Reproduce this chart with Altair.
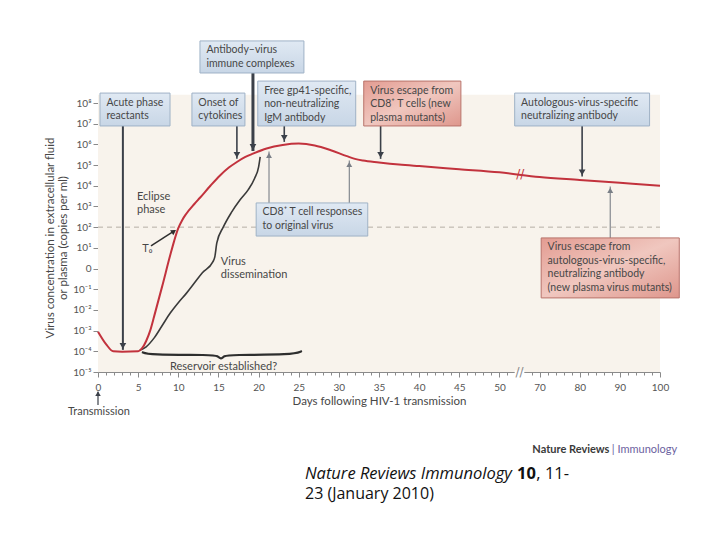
import altair as alt
import pandas as pd

FONT = "Lato"
TXT = "#474747"

# ---------------- data ----------------
# plasma virus (red) curve: days after transmission, log10 copies/ml
red_days = [0, 1, 1.9, 3, 5, 5.5, 6, 6.5, 7, 8, 9, 9.5, 10, 10.5, 11, 12, 12.7, 14, 15.2, 16.3,
            17.3, 18.3, 19.3, 21, 23, 25, 27, 29, 31, 32, 33, 35, 37.5, 40, 45, 50, 70, 80, 90, 100]
red_log = [-3.05, -3.65, -4.0, -4.02, -4.0, -3.85, -3.5, -3.0, -2.3, -0.85, 0.65, 1.35, 1.95,
           2.35, 2.65, 3.12, 3.42, 4.0, 4.5, 4.88, 5.15, 5.38, 5.55, 5.8, 5.97, 6.04, 5.95,
           5.72, 5.43, 5.3, 5.22, 5.13, 5.03, 4.95, 4.8, 4.65, 4.42, 4.28, 4.14, 4.0]

# virus dissemination (black) curve
blk_days = [5.2, 6, 7, 8, 9, 10, 11, 12, 13, 14.3, 14.55, 14.8, 15.6, 16.6, 17.7, 18.7, 19.5,
            20.0, 20.2]
blk_log = [-3.95, -3.78, -3.35, -2.75, -2.15, -1.65, -1.2, -0.7, -0.2, 0.32, 0.56, 1.24, 2.0,
           2.7, 3.32, 3.8, 4.35, 4.9, 5.4]

# reservoir brace (days)
brace_days = [5.48, 6.23, 14.3, 14.9, 15.3, 15.7, 16.4, 24.3, 25.4]
brace_log = [-4.03, -4.17, -4.17, -4.22, -4.4, -4.22, -4.17, -4.17, -3.99]

# axes
y_tick_vals = list(range(-5, 9))
y_tick_labels = ["10⁻⁵", "10⁻⁴", "10⁻³", "10⁻²", "10⁻¹", "0", "10¹", "10²", "10³", "10⁴",
                 "10⁵", "10⁶", "10⁷", "10⁸"]
x_tick_pos = [0, 5, 10, 15, 20, 25, 30, 35, 40, 45, 50, 55, 60, 65, 70]
x_tick_labels = ["0", "5", "10", "15", "20", "25", "30", "35", "40", "45", "50",
                 "70", "80", "90", "100"]
x_minor = [v for v in range(0, 71) if v not in (52, 53)]

# annotation boxes (axis units)
box_text = ["Acute phase\nreactants", "Onset of\ncytokines", "Antibody–virus\nimmune complexes",
            "Free gp41-specific,\nnon-neutralizing\nIgM antibody",
            "Virus escape from\nCD8⁺ T cells (new\nplasma mutants)",
            "Autologous-virus-specific\nneutralizing antibody",
            "CD8⁺ T cell responses\nto original virus",
            "Virus escape from\nautologous-virus-specific,\nneutralizing antibody\n(new plasma virus mutants)"]
box_u0 = [0.25, 11.7, 12.7, 19.9, 33.1, 51.9, 19.7, 55.2]
box_u1 = [8.97, 18.3, 25.65, 32.1, 45.2, 68.7, 33.6, 72.4]
box_top = [8.48, 8.48, 11.0, 9.06, 9.06, 8.48, 3.17, 1.48]
box_bot = [6.89, 6.89, 9.45, 6.89, 6.89, 6.89, 1.57, -1.42]
box_kind = ["blue", "blue", "blue", "blue", "red", "blue", "blue", "red"]

# arrows (axis units): x, from, to (tip)
arr_u = [3.1, 17.3, 19.3, 23.2, 35.2, 60.3, 21.3, 31.3, 63.8]
arr_from = [6.89, 6.89, 9.45, 6.89, 6.89, 6.89, 3.17, 3.17, 1.48]
arr_to = [-3.93, 5.3, 5.68, 6.12, 5.3, 4.45, 5.66, 5.22, 3.97]
arr_dir = ["down", "down", "down", "down", "down", "down", "up", "up", "up"]
arr_w = [2, 1.6, 3, 1.6, 1.6, 1.6, 1.1, 1.1, 1.1]

# free texts
misc_text = ["Eclipse\nphase", "T₀", "Virus\ndissemination", "Reservoir established?", "Transmission"]
misc_u = [4.86, 5.5, 15.3, 8.97, -3.74]
misc_y = [3.75, 1.24, 0.61, -4.46, -6.64]

# ---------------- helpers ----------------
U_EXPR = ("datum.d <= 50 ? datum.d : (datum.d >= 70 ? 55 + (datum.d - 70) / 2 "
          ": 50 + (datum.d - 50) / 4)")


def expr_from(vals, labels):
    e = "''"
    for v, l in zip(vals, labels):
        e = f"datum.value == {v} ? '{l}' : ({e})"
    return e


xs = alt.Scale(domain=[0, 70], nice=False, zero=False)
ys = alt.Scale(domain=[-5, 8], nice=False, zero=False)
xaxis = alt.Axis(values=x_minor, labelExpr=expr_from(x_tick_pos, x_tick_labels),
                 tickSize={"condition": {"test": "datum.value % 5 === 0", "value": 5}, "value": 3},
                 title="Days following HIV-1 transmission", titleFont=FONT, titleFontSize=11.5,
                 titleFontWeight="normal", titleColor=TXT, titlePadding=3,
                 labelFont=FONT, labelFontSize=10, labelColor="#555", labelPadding=5,
                 labelFlush=False, labelOverlap=False, domainColor="#8a8a8a",
                 tickColor="#8a8a8a", grid=False)
yaxis = alt.Axis(values=y_tick_vals, labelExpr=expr_from(y_tick_vals, y_tick_labels),
                 tickSize=5, title=["Virus concentration in extracellular fluid",
                                    "or plasma (copies per ml)"],
                 titleFont=FONT, titleFontSize=11.5, titleFontWeight="normal", titleColor=TXT,
                 titlePadding=4, labelFont=FONT, labelFontSize=10, labelColor="#555",
                 labelPadding=2, labelFlush=False, labelOverlap=False, domainColor="#8a8a8a",
                 tickColor="#8a8a8a", grid=False)


def X(f="u"):
    return alt.X(f"{f}:Q", scale=xs, axis=xaxis)


def Y(f="y"):
    return alt.Y(f"{f}:Q", scale=ys, axis=yaxis)


def txt(t, u, y, **kw):
    return alt.Chart(pd.DataFrame({"t": [t], "u": [u], "y": [y]})).mark_text(**kw).encode(
        x=X(), y=Y(), text="t:N")


# ---------------- layers ----------------
bg = alt.Chart(pd.DataFrame({"u": [0], "u2": [70], "y": [-5], "y2": [8.4]})).mark_rect(
    color="#f8f3ec").encode(x=X(), x2="u2:Q", y=Y(), y2="y2:Q")

dash = alt.Chart(pd.DataFrame({"u": [0], "u2": [70], "y": [2]})).mark_rule(
    color="#b5aea6", strokeDash=[5, 4], strokeWidth=1).encode(x=X(), x2="u2:Q", y=Y())

red = alt.Chart(pd.DataFrame({"d": red_days, "y": red_log})).transform_calculate(
    u=U_EXPR).mark_line(color="#c2323d", strokeWidth=2, interpolate="monotone").encode(
    x=X(), y=Y(), order="d:Q")

blk = alt.Chart(pd.DataFrame({"d": blk_days, "y": blk_log})).transform_calculate(
    u=U_EXPR).mark_line(color="#3a3a3a", strokeWidth=1.6, interpolate="monotone").encode(
    x=X(), y=Y(), order="d:Q")

brace = alt.Chart(pd.DataFrame({"d": brace_days, "y": brace_log})).transform_calculate(
    u=U_EXPR).mark_line(color="#2e2e2e", strokeWidth=2.2, interpolate="basis").encode(
    x=X(), y=Y(), order="d:Q")

boxes = pd.DataFrame({"t": box_text, "u": box_u0, "u2": box_u1, "y": box_top, "y2": box_bot,
                      "k": box_kind})
boxes["tu"] = boxes["u"] + 0.8
boxes["ty"] = boxes["y"] - 0.22

blue_fill = alt.Gradient(gradient="linear", x1=0, y1=0, x2=0, y2=1,
                         stops=[alt.GradientStop(color="#e0e9f3", offset=0),
                                alt.GradientStop(color="#c8d6e6", offset=1)])
red_fill = alt.Gradient(gradient="linear", x1=0, y1=0, x2=1, y2=1,
                        stops=[alt.GradientStop(color="#e39c92", offset=0),
                               alt.GradientStop(color="#f0c7bf", offset=0.5),
                               alt.GradientStop(color="#de968c", offset=1)])

box_blue = alt.Chart(boxes).transform_filter("datum.k == 'blue'").mark_rect(
    fill=blue_fill, stroke="#9fb2c6", strokeWidth=1).encode(x=X(), x2="u2:Q", y=Y(), y2="y2:Q")
box_red = alt.Chart(boxes).transform_filter("datum.k == 'red'").mark_rect(
    fill=red_fill, stroke="#b8736b", strokeWidth=1).encode(x=X(), x2="u2:Q", y=Y(), y2="y2:Q")
box_txt = alt.Chart(boxes).mark_text(align="left", baseline="top", lineBreak="\n",
                                     lineHeight=13.5, font=FONT, fontSize=10.5,
                                     color=TXT).encode(x=X("tu"), y=Y("ty"), text="t:N")

arrows = pd.DataFrame({"u": arr_u, "y": arr_from, "y2": arr_to, "dir": arr_dir, "w": arr_w})
DN, UP = "#3b4049", "#7a7f87"
arr_dn = alt.Chart(arrows).transform_filter("datum.dir == 'down'").mark_rule(color=DN).encode(
    x=X(), y=Y(), y2="y2:Q", strokeWidth=alt.StrokeWidth("w:Q", scale=None))
arr_up = alt.Chart(arrows).transform_filter("datum.dir == 'up'").mark_rule(color=UP).encode(
    x=X(), y=Y(), y2="y2:Q", strokeWidth=alt.StrokeWidth("w:Q", scale=None))
heads_dn = alt.Chart(arrows).transform_filter("datum.dir == 'down'").transform_calculate(
    ty="datum.y2").mark_point(shape="triangle-down", filled=True, size=45, opacity=1,
                               color=DN, yOffset=-4).encode(x=X(), y=Y("ty"))
heads_up = alt.Chart(arrows).transform_filter("datum.dir == 'up'").transform_calculate(
    ty="datum.y2").mark_point(shape="triangle-up", filled=True, size=35, opacity=1,
                               color=UP, yOffset=4).encode(x=X(), y=Y("ty"))

misc = alt.Chart(pd.DataFrame({"t": misc_text, "u": misc_u, "y": misc_y})).mark_text(
    align="left", baseline="top", lineBreak="\n", lineHeight=13.5, font=FONT, fontSize=11,
    color=TXT).encode(x=X(), y=Y(), text="t:N")

# T0 and transmission arrows
t0 = alt.Chart(pd.DataFrame({"u": [6.6], "y": [1.1], "u2": [9.55], "y2": [1.83]})).mark_rule(
    color="#2e2e2e", strokeWidth=1.5).encode(x=X(), y=Y(), x2="u2:Q", y2="y2:Q")
t0h = alt.Chart(pd.DataFrame({"u": [9.45], "y": [1.8]})).mark_point(
    shape="triangle-up", filled=True, size=35, opacity=1, color="#2e2e2e", angle=57).encode(
    x=X(), y=Y())
tr = alt.Chart(pd.DataFrame({"u": [0], "y": [-6.6], "y2": [-5.95]})).mark_rule(
    color="#3b4049", strokeWidth=1.2).encode(x=X(), y=Y(), y2="y2:Q")
trh = alt.Chart(pd.DataFrame({"u": [0], "y": [-5.95]})).mark_point(
    shape="triangle-up", filled=True, size=30, opacity=1, color="#3b4049", yOffset=2).encode(
    x=X(), y=Y())

# axis / curve breaks
brk_cover = alt.Chart(pd.DataFrame({"u": [51.9], "u2": [53.1], "y": [-5.08], "y2": [-4.92]})
                      ).mark_rect(color="#ffffff").encode(x=X(), x2="u2:Q", y=Y(), y2="y2:Q")
brk_axis = txt("//", 52.5, -5.0, font="DejaVu Sans", fontSize=12, baseline="middle",
               align="center", color="#8a8a8a")
brk_curve = txt("//", 52.6, 4.56, font="DejaVu Sans", fontSize=12, baseline="middle",
                align="center", color="#c2323d")

# footer
nr1 = txt("Nature Reviews", 63.7, -8.76, align="right", baseline="middle", font=FONT,
          fontSize=11, fontWeight="bold", color="#3a3a3a")
nr2 = txt("| Immunology", 64.0, -8.76, align="left", baseline="middle", font=FONT,
          fontSize=11, color="#6c5fa0")
CFONT = "Open Sans"
c1 = txt("Nature Reviews Immunology", 25.78, -9.92, align="left", baseline="middle",
         font=CFONT, fontSize=16.5, fontStyle="italic", color="#111")
c2 = txt("10", 52.2, -9.92, align="left", baseline="middle", font=CFONT, fontSize=16.5,
         fontWeight="bold", color="#111")
c3 = txt(", 11-", 54.6, -9.92, align="left", baseline="middle", font=CFONT, fontSize=16.5,
         color="#111")
c4 = txt("23 (January 2010)", 25.78, -10.89, align="left", baseline="middle", font=CFONT,
         fontSize=16, color="#111")

chart = alt.layer(bg, dash, brk_cover, brace, blk, red, brk_axis, brk_curve, arr_dn, arr_up,
                  heads_dn, heads_up, box_blue, box_red, box_txt, misc, t0, t0h, tr, trh,
                  nr1, nr2, c1, c2, c3, c4
                  ).properties(
    width=562, height=269,
    padding={"left": 90, "top": 95, "right": 52, "bottom": 160},
    autosize=alt.AutoSizeParams(type="none"),
).configure(background="white").configure_view(strokeWidth=0)

chart.save("out.html", embed_options={"renderer": "svg", "actions": False})
